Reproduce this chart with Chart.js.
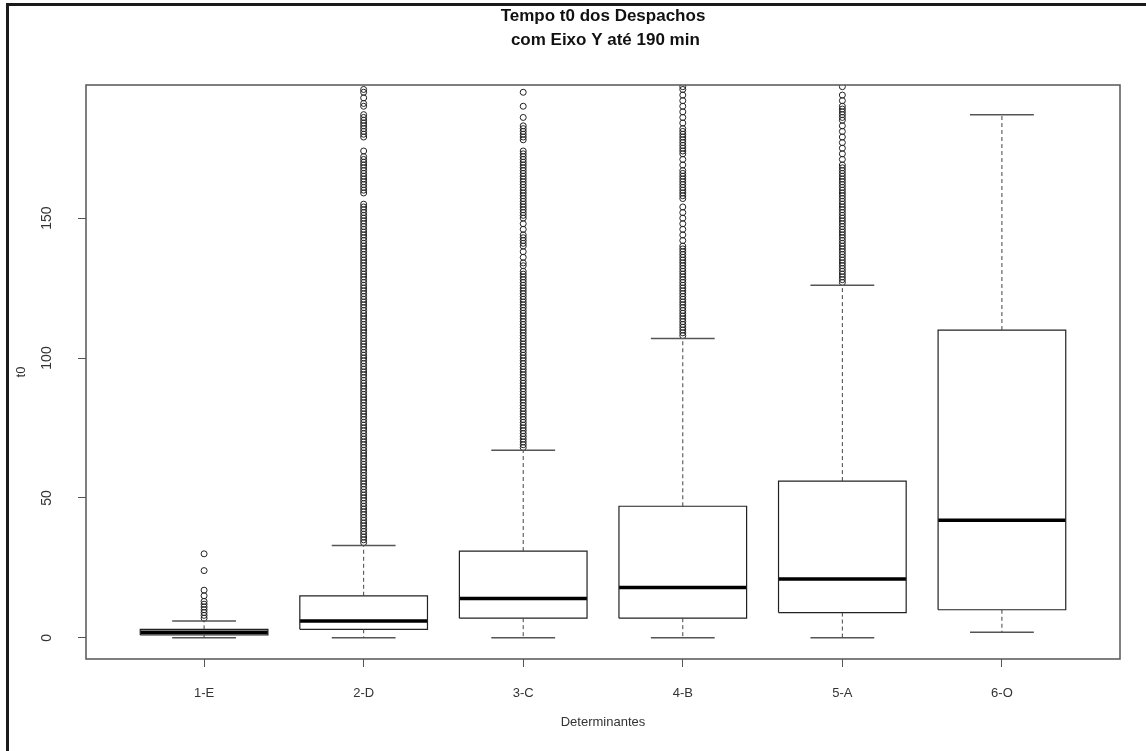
<!DOCTYPE html>
<html>
<head>
<meta charset="utf-8">
<script src="https://cdn.jsdelivr.net/npm/chart.js@4/dist/chart.umd.min.js"></script>
<style>
  html, body { margin: 0; padding: 0; background: #fff; overflow: hidden; }
  #frame { position: absolute; left: 6px; top: 3px; width: 1160px; height: 770px;
           border-left: 3px solid #1a1a1a; border-top: 3px solid #1a1a1a; }
  #wrap { position: absolute; left: 0; top: 0; width: 1146px; height: 751px; }
</style>
</head>
<body>
<div id="frame"></div>
<div id="wrap"><canvas id="boxChart"></canvas></div>
<script>
const categories = ["1-E", "2-D", "3-C", "4-B", "5-A", "6-O"];
const whiskerLow = [0, 0, 0, 0, 0, 2];
const q1 = [1, 3, 7, 7, 9, 10];
const median = [2, 6, 14, 18, 21, 42];
const q3 = [3, 15, 31, 47, 56, 110];
const whiskerHigh = [6, 33, 67, 107, 126, 187];

const outliers1E = [7, 8, 9, 10, 11, 12, 13, 15, 17, 24, 30];
const outliers2D = [34, 35, 36, 37, 38, 39, 40, 41, 42, 43, 44, 45, 46, 47, 48, 49, 50, 51, 52, 53, 54, 55,
  56, 57, 58, 59, 60, 61, 62, 63, 64, 65, 66, 67, 68, 69, 70, 71, 72, 73, 74, 75, 76, 77, 78, 79, 80,
  81, 82, 83, 84, 85, 86, 87, 88, 89, 90, 91, 92, 93, 94, 95, 96, 97, 98, 99, 100, 101, 102, 103, 104,
  105, 106, 107, 108, 109, 110, 111, 112, 113, 114, 115, 116, 117, 118, 119, 120, 121, 122, 123, 124,
  125, 126, 127, 128, 129, 130, 131, 132, 133, 134, 135, 136, 137, 138, 139, 140, 141, 142, 143, 144,
  145, 146, 147, 148, 149, 150, 151, 152, 153, 154, 155, 159, 160, 161, 162, 163, 164, 165, 166, 167,
  168, 169, 170, 171, 172, 174, 179, 180, 181, 182, 183, 184, 185, 186, 187, 190, 191, 193, 195, 196];
const outliers3C = [68, 69, 70, 71, 72, 73, 74, 75, 76, 77, 78, 79, 80, 81, 82, 83, 84, 85, 86, 87, 88, 89,
  90, 91, 92, 93, 94, 95, 96, 97, 98, 99, 100, 101, 102, 103, 104, 105, 106, 107, 108, 109, 110, 111,
  112, 113, 114, 115, 116, 117, 118, 119, 120, 121, 122, 123, 124, 125, 126, 127, 128, 129, 130, 131,
  133, 134, 136, 138, 140, 141, 142, 143, 144, 146, 148, 150, 151, 152, 153, 154, 155, 156, 157, 158,
  159, 160, 161, 162, 163, 164, 165, 166, 167, 168, 169, 170, 171, 172, 173, 174, 178, 179, 180, 181,
  182, 183, 186, 190, 195];
const outliers4B = [108, 109, 110, 111, 112, 113, 114, 115, 116, 117, 118, 119, 120, 121, 122, 123, 124,
  125, 126, 127, 128, 129, 130, 131, 132, 133, 134, 135, 136, 137, 138, 139, 140, 142, 144, 146, 148,
  150, 152, 154, 157, 158, 159, 160, 161, 162, 163, 164, 165, 166, 167, 169, 171, 173, 174, 175, 176,
  177, 178, 179, 180, 181, 182, 184, 186, 188, 190, 192, 194, 196, 197];
const outliers5A = [127, 128, 129, 130, 131, 132, 133, 134, 135, 136, 137, 138, 139, 140, 141, 142, 143,
  144, 145, 146, 147, 148, 149, 150, 151, 152, 153, 154, 155, 156, 157, 158, 159, 160, 161, 162, 163,
  164, 165, 166, 167, 168, 169, 171, 173, 175, 177, 179, 181, 183, 185, 186, 187, 188, 189, 190, 192,
  194, 197];
const outliers6O = [];
const outliers = [outliers1E, outliers2D, outliers3C, outliers4B, outliers5A, outliers6O];

const yTicks = [0, 50, 100, 150];
const yLimit = [0, 190];

const mainTitle = ["Tempo t0 dos Despachos", " com Eixo Y até 190 min"];
const xTitle = "Determinantes";
const yTitle = "t0";

// R style: boxwex 0.8, staplewex 0.5, axes padded by 4%
const boxHalf = 0.4;
const capHalf = 0.2;
const xPad = (categories.length) * 0.04;
const yPad = (yLimit[1] - yLimit[0]) * 0.04;
const fontName = '"Liberation Sans", Arial, sans-serif';

const gap = (x) => ({ x: x, y: null });

const boxPts = [], medPts = [], whiskPts = [], capPts = [], outPts = [];
categories.forEach((c, i) => {
  const x = i + 1;
  boxPts.push({ x: x - boxHalf, y: q1[i] }, { x: x + boxHalf, y: q1[i] }, { x: x + boxHalf, y: q3[i] },
              { x: x - boxHalf, y: q3[i] }, { x: x - boxHalf, y: q1[i] }, gap(x));
  medPts.push({ x: x - boxHalf, y: median[i] }, { x: x + boxHalf, y: median[i] }, gap(x));
  whiskPts.push({ x: x, y: q3[i] }, { x: x, y: whiskerHigh[i] }, gap(x),
                { x: x, y: q1[i] }, { x: x, y: whiskerLow[i] }, gap(x));
  capPts.push({ x: x - capHalf, y: whiskerHigh[i] }, { x: x + capHalf, y: whiskerHigh[i] }, gap(x),
              { x: x - capHalf, y: whiskerLow[i] }, { x: x + capHalf, y: whiskerLow[i] }, gap(x));
  outliers[i].forEach(v => outPts.push({ x: x, y: v }));
});

const lineSet = (data, color, width, dash) => ({
  data: data, showLine: true, spanGaps: false, pointRadius: 0, borderColor: color,
  borderWidth: width, borderDash: dash || [], fill: false, tension: 0,
  borderCapStyle: "butt", borderJoinStyle: "miter"
});

const frame = {
  id: "frame",
  afterDatasetsDraw(chart) {
    const { ctx, chartArea: a } = chart;
    ctx.save();
    ctx.strokeStyle = "#555";
    ctx.lineWidth = 1.5;
    ctx.strokeRect(a.left, a.top, a.right - a.left, a.bottom - a.top);
    ctx.restore();
  }
};

const rTexts = {
  id: "rTexts",
  afterDraw(chart) {
    const { ctx, chartArea: a, scales: { y } } = chart;
    ctx.save();
    ctx.fillStyle = "#111";
    ctx.textAlign = "center";
    ctx.textBaseline = "middle";
    ctx.font = "bold 17px " + fontName;
    const cx = (a.left + a.right) / 2;
    ctx.fillText(mainTitle[0], cx, 16);
    ctx.fillText(mainTitle[1], cx, 40);
    ctx.font = "14px " + fontName;
    ctx.fillStyle = "#333";
    yTicks.forEach(v => {
      ctx.save();
      ctx.translate(a.left - 39, y.getPixelForValue(v));
      ctx.rotate(-Math.PI / 2);
      ctx.fillText(String(v), 0, 0);
      ctx.restore();
    });
    ctx.restore();
  }
};

new Chart(document.getElementById("boxChart"), {
  type: "scatter",
  data: {
    datasets: [
      lineSet(whiskPts, "#444", 1, [4, 3]),
      lineSet(capPts, "#555", 1.5),
      lineSet(boxPts, "#222", 1.2),
      lineSet(medPts, "#000", 3.5),
      {
        data: outPts, showLine: false, pointStyle: "circle", pointRadius: 3,
        pointBorderWidth: 1, pointBorderColor: "#222", pointBackgroundColor: "rgba(255,255,255,0)"
      }
    ]
  },
  options: {
    responsive: true,
    maintainAspectRatio: false,
    animation: false,
    events: [],
    layout: { padding: { left: 0, top: 85, right: 26, bottom: 0 } },
    plugins: { legend: { display: false }, tooltip: { enabled: false }, title: { display: false } },
    scales: {
      x: {
        type: "linear",
        min: 1 - 0.5 - xPad,
        max: categories.length + 0.5 + xPad,
        afterBuildTicks: (s) => { s.ticks = categories.map((c, i) => ({ value: i + 1 })); },
        afterFit: (s) => { s.height = 92; },
        ticks: {
          autoSkip: false, maxRotation: 0, padding: 19, color: "#333",
          font: { family: fontName, size: 13 },
          callback: (v) => categories[v - 1]
        },
        grid: { drawOnChartArea: false, drawTicks: true, tickLength: 8, tickColor: "#555", tickWidth: 1 },
        border: { display: false },
        title: { display: true, text: xTitle, color: "#333", font: { family: fontName, size: 13 },
                 padding: { top: 0, bottom: 21 } }
      },
      y: {
        min: yLimit[0] - yPad,
        max: yLimit[1] + yPad,
        afterBuildTicks: (s) => { s.ticks = yTicks.map(v => ({ value: v })); },
        afterFit: (s) => { s.width = 86; },
        ticks: { display: false },
        grid: { drawOnChartArea: false, drawTicks: true, tickLength: 8, tickColor: "#555", tickWidth: 1 },
        border: { display: false },
        title: { display: true, text: yTitle, color: "#333", font: { family: fontName, size: 13 },
                 padding: { top: 14, bottom: 0 } }
      }
    }
  },
  plugins: [frame, rTexts]
});
</script>
</body>
</html>
